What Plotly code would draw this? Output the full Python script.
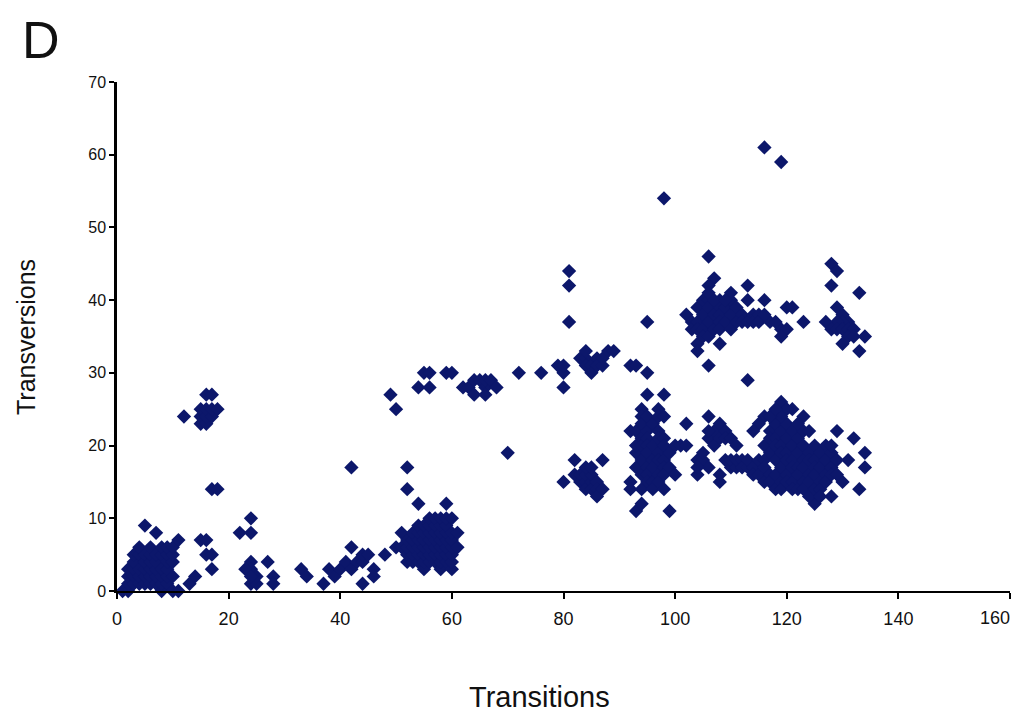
import plotly.graph_objects as go

# (transitions, transversions) pairs, grouped by cluster
cluster_low_left = [
    (1,0),(2,0),(2,1),(2,2),(2,3),(3,1),(3,2),(3,3),(3,4),(3,5),(4,1),(4,2),(4,3),(4,5),(4,6),
    (5,1),(5,2),(5,3),(5,4),(5,5),(5,9),(6,1),(6,2),(6,3),(6,4),(6,5),(6,6),(7,1),(7,2),(7,3),
    (7,4),(7,5),(7,8),(8,0),(8,1),(8,2),(8,3),(8,5),(8,6),(9,1),(9,2),(9,3),(9,4),(9,5),(9,6),
    (10,0),(10,2),(10,4),(10,5),(10,6),(11,0),(11,7),(13,1),(14,2),
    (15,7),(16,7),(16,5),(17,5),(17,3),(17,14),(18,14),
    (12,24),(15,23),(15,24),(15,25),(16,23),(16,24),(16,25),(16,27),(17,27),(17,24),(17,25),(18,25),
    (22,8),(24,8),(24,10),(24,4),(24,3),(23,3),(24,1),(25,1),(25,2),(24,2),(27,4),(28,2),(28,1),
]
cluster_mid = [
    (33,3),(34,2),(37,1),(38,3),(39,2),(40,3),(41,4),(42,3),(42,6),(42,17),(43,4),(44,4),(44,5),
    (45,5),(44,1),(46,3),(46,2),(48,5),(49,27),(50,25),(52,17),(52,14),(54,12),(59,12),
    (50,6),(51,6),(51,8),(52,4),(52,5),(52,6),(52,7),(53,4),(53,5),(53,6),(53,7),(53,8),
    (54,4),(54,5),(54,6),(54,7),(54,8),(54,9),(55,3),(55,4),(55,5),(55,6),(55,7),(55,8),(55,9),
    (56,4),(56,5),(56,6),(56,7),(56,8),(56,9),(56,10),(57,4),(57,5),(57,6),(57,7),(57,8),(57,9),
    (57,10),(58,3),(58,4),(58,5),(58,6),(58,7),(58,8),(58,9),(58,10),(59,4),(59,5),(59,6),(59,7),
    (59,8),(59,9),(59,10),(60,3),(60,4),(60,5),(60,6),(60,7),(60,8),(60,10),(61,6),(61,8),
]
cluster_band = [
    (54,28),(56,28),(55,30),(56,30),(59,30),(60,30),(62,28),(63,28),(64,29),(65,29),(66,28),
    (66,29),(67,29),(64,27),(66,27),(68,28),(70,19),(72,30),(76,30),(79,31),(80,30),(80,31),
    (80,28),(81,44),(81,42),(81,37),(83,32),(84,32),(84,31),(85,31),(85,30),(86,32),(86,31),
    (87,31),(87,32),(88,33),(89,33),(84,33),(92,31),(93,31),(95,30),(95,27),(98,27),(95,37),
    (98,54),(116,61),(119,59),
]
cluster_upper_right = [
    (106,46),(107,43),(106,42),(113,42),(116,40),(120,39),(121,39),(123,37),(119,36),(120,36),
    (119,35),(106,31),(113,29),(104,34),(104,33),(108,34),
    (102,38),(103,37),(103,36),(104,39),(104,37),(104,36),(105,40),(105,38),(105,36),(105,35),
    (106,40),(106,39),(106,37),(106,35),(107,38),(107,36),(108,40),(108,39),(108,38),(108,37),
    (108,36),(109,39),(109,37),(110,40),(110,38),(110,36),(111,39),(111,37),(112,38),(112,37),
    (113,40),(113,37),(114,38),(114,37),(115,38),(115,37),(117,37),(116,38),(118,37),(106,41),
    (107,40),(110,41),(109,40),
    (128,45),(129,44),(128,42),(133,41),(129,39),(130,38),(131,37),(130,37),(129,37),(127,37),
    (128,36),(129,36),(130,36),(131,36),(132,36),(131,35),(132,35),(130,34),(134,35),(133,33),
]
cluster_lower_right = [
    (82,18),(87,18),(80,15),(82,16),(83,15),(83,16),(84,15),(84,16),(84,14),(85,15),(85,14),
    (85,16),(86,15),(86,14),(86,13),(87,14),(84,17),(85,17),(92,15),(92,14),(93,11),(94,12),
    (99,11),(92,22),(93,19),(93,17),(93,20),(93,22),(94,25),(94,24),(94,23),(94,21),(94,20),
    (94,18),(94,16),(94,14),(95,24),(95,22),(95,21),(95,20),(95,19),(95,17),(95,16),(95,15),
    (96,23),(96,20),(96,18),(96,17),(96,15),(96,14),(97,25),(97,24),(97,22),(97,21),(97,19),
    (97,18),(97,16),(97,15),(98,24),(98,21),(98,20),(98,18),(98,17),(98,16),(98,14),(99,19),
    (99,17),(100,20),(101,20),(102,20),(102,23),(100,16),(104,16),(104,18),(105,18),(105,19),
    (106,17),(104,17),(106,24),(106,21),(107,22),(107,20),(108,23),(108,21),(109,22),(109,21),
    (110,21),(106,22),(108,16),(108,15),(109,18),(110,17),(110,18),(111,17),(111,18),(112,18),
    (112,17),(113,17),(113,18),(114,17),(114,16),(111,20),
    (119,26),(121,25),(123,24),(116,24),(115,23),(114,22),(129,22),(132,21),(134,19),(131,18),
    (134,17),(130,15),(133,14),(125,12),(128,13),
    (115,18),(115,16),(116,20),(116,18),(116,17),(116,15),(117,22),(117,21),(117,19),(117,16),
    (117,15),(118,23),(118,21),(118,20),(118,18),(118,16),(118,14),(119,22),(119,20),(119,19),
    (119,17),(119,15),(119,14),(120,23),(120,21),(120,19),(120,18),(120,16),(120,15),(121,22),
    (121,20),(121,18),(121,17),(121,15),(121,14),(122,21),(122,19),(122,17),(122,16),(122,14),
    (123,22),(123,20),(123,18),(123,17),(123,15),(123,14),(124,19),(124,18),(124,16),(124,15),
    (124,13),(125,20),(125,18),(125,17),(125,16),(125,14),(126,19),(126,17),(126,15),(126,14),
    (127,20),(127,18),(127,16),(127,15),(128,19),(128,17),(128,16),(128,20),(129,18),(129,16),
    (126,13),(124,22),(122,23),(120,25),(119,24),(117,24),(118,25),
]

points = cluster_low_left + cluster_mid + cluster_band + cluster_upper_right + cluster_lower_right
transitions = [p[0] for p in points]
transversions = [p[1] for p in points]

x_ticks = [0, 20, 40, 60, 80, 100, 120, 140, 160]
x_tick_text = ["0", "20", "40", "60", "80", "100", "120", "140", ""]  # "160" placed as annotation (kept inside the page)
y_ticks = [0, 10, 20, 30, 40, 50, 60, 70]

FONT = "Liberation Sans, Arial, sans-serif"
INK = "#111111"

# Page body has an 8px default margin; the figure is sized so the page does not overflow.
W, H = 1003, 705
L, R, T, B = 109, 1, 74, 122
PW, PH = W - L - R, H - T - B          # plot area in pixels
OX, OY = 8 + L, 8 + T + PH             # screen position of plot origin


def px(sx):
    return (sx - OX) / PW


def py(sy):
    return (OY - sy) / PH


fig = go.Figure()
fig.add_trace(go.Scatter(
    x=transitions, y=transversions, mode="markers",
    marker=dict(symbol="diamond", size=11, color="#0c176b", line=dict(width=0)),
    cliponaxis=False, showlegend=False,
))

fig.update_layout(
    width=W, height=H,
    margin=dict(l=L, r=R, t=T, b=B),
    paper_bgcolor="white", plot_bgcolor="white",
    font=dict(family=FONT, color=INK),
    xaxis=dict(range=[0, 160], tickvals=x_ticks, ticktext=x_tick_text, showgrid=False,
               zeroline=False, automargin=False,
               showline=True, linecolor="black", linewidth=2, ticks="outside",
               ticklen=6, tickwidth=2, tickcolor="black", ticklabelstandoff=4,
               tickfont=dict(family=FONT, size=18, color=INK)),
    yaxis=dict(range=[0, 70], tickvals=y_ticks, showgrid=False, zeroline=False,
               automargin=False,
               showline=True, linecolor="black", linewidth=2.5, ticks="outside",
               ticklen=5, tickwidth=2, tickcolor="black",
               tickfont=dict(family=FONT, size=16, color=INK)),
    annotations=[
        dict(text="160", xref="paper", yref="paper", x=px(995), y=py(618),
             showarrow=False, font=dict(family=FONT, size=18, color=INK),
             xanchor="center", yanchor="middle"),
        dict(text="Transitions", xref="paper", yref="paper", x=px(539), y=py(697),
             showarrow=False, font=dict(family=FONT, size=29, color=INK),
             xanchor="center", yanchor="middle"),
        dict(text="Transversions", xref="paper", yref="paper", x=px(26), y=py(337),
             showarrow=False, textangle=-90,
             font=dict(family=FONT, size=25, color=INK),
             xanchor="center", yanchor="middle"),
        dict(text="D", xref="paper", yref="paper", x=px(41), y=py(9),
             showarrow=False, font=dict(family=FONT, size=52, color=INK),
             xanchor="center", yanchor="top"),
    ],
)

fig.write_html("out.html")
